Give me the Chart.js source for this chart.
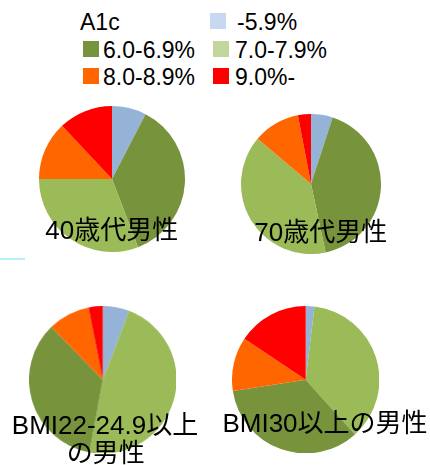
<!DOCTYPE html>
<html>
<head>
<meta charset="utf-8">
<script src="https://cdn.jsdelivr.net/npm/chart.js@4"></script>
<style>
  body { margin: 0; background: #fff; width: 430px; height: 465px; position: relative; overflow: hidden;
         font-family: "Liberation Sans", "Noto Sans CJK JP", sans-serif; color: #000; }
  .box { position: absolute; }
  .title { position: absolute; font-size: 26px; line-height: 30px; white-space: nowrap; transform: translate(-50%, -50%); z-index: 2; }
  .lg { position: absolute; font-size: 23px; line-height: 26px; white-space: nowrap; }
  .sw { position: absolute; width: 16px; height: 16px; }
  .cyan { position: absolute; left: 0; top: 258px; width: 25px; height: 2px; background: #b4f0f8; }
</style>
</head>
<body>
<div class="cyan"></div>
<div id="legend"></div>
<div class="box" style="left:38.7px;top:105.5px;width:146px;height:146px"><canvas id="pie1"></canvas></div>
<div class="box" style="left:240.7px;top:114.3px;width:140px;height:140px"><canvas id="pie2"></canvas></div>
<div class="box" style="left:29.4px;top:306px;width:146.6px;height:146.6px"><canvas id="pie3"></canvas></div>
<div class="box" style="left:232px;top:305.6px;width:147.4px;height:147.4px"><canvas id="pie4"></canvas></div>
<div class="title" style="left:111.7px;top:230px">40歳代男性</div>
<div class="title" style="left:320.8px;top:231.7px">70歳代男性</div>
<div class="title" style="left:105px;top:425px">BMI22-24.9以上</div>
<div class="title" style="left:105.8px;top:453px">の男性</div>
<div class="title" style="left:325px;top:423.3px">BMI30以上の男性</div>
<script>
document.addEventListener("DOMContentLoaded", function () {
    // A1c categories
    const categories = ["-5.9%", "6.0-6.9%", "7.0-7.9%", "8.0-8.9%", "9.0%-"];
    const pieColors = ["#95B3D7", "#77933C", "#9BBB59", "#FF6600", "#FF0000"];
    const legendColors = ["#C6D9F1", "#77933C", "#C3D69B", "#FF6600", "#FF0000"];

    // shares (%) in category order
    const male40 = [7.6, 36.6, 30.8, 13.0, 12.0];
    const male70 = [5.0, 41.6, 39.5, 10.8, 3.0];
    const bmi22 = [5.8, 34.8, 47.1, 9.2, 3.1];
    const bmi30 = [1.9, 34.2, 36.4, 11.8, 15.6];

    // slice drawing order (BMI charts draw 7.0-7.9% before 6.0-6.9%)
    const orderAge = [0, 1, 2, 3, 4];
    const orderBmi = [0, 2, 1, 3, 4];

    // legend
    const legend = document.getElementById("legend");
    const lgPos = [[210, 13, 237], [83, 41, 103], [213, 41, 235], [83, 68, 103], [213, 68, 235]];
    let head = document.createElement("div");
    head.className = "lg";
    head.style.left = "80px";
    head.style.top = "9px";
    head.textContent = "A1c";
    legend.appendChild(head);
    categories.forEach(function (c, i) {
        const sw = document.createElement("div");
        sw.className = "sw";
        sw.style.left = lgPos[i][0] + "px";
        sw.style.top = lgPos[i][1] + "px";
        sw.style.background = legendColors[i];
        legend.appendChild(sw);
        const t = document.createElement("div");
        t.className = "lg";
        t.style.left = lgPos[i][2] + "px";
        t.style.top = (lgPos[i][1] - 4) + "px";
        t.textContent = c;
        legend.appendChild(t);
    });

    function makePie(id, values, order) {
        new Chart(document.getElementById(id), {
            type: "pie",
            data: {
                labels: order.map(i => categories[i]),
                datasets: [{
                    data: order.map(i => values[i]),
                    backgroundColor: order.map(i => pieColors[i]),
                    borderWidth: 0,
                    hoverOffset: 0,
                    offset: 0
                }]
            },
            options: {
                responsive: true,
                maintainAspectRatio: false,
                animation: false,
                layout: { padding: 0 },
                plugins: { legend: { display: false }, tooltip: { enabled: false } }
            }
        });
    }

    makePie("pie1", male40, orderAge);
    makePie("pie2", male70, orderAge);
    makePie("pie3", bmi22, orderBmi);
    makePie("pie4", bmi30, orderBmi);
});
</script>
</body>
</html>
